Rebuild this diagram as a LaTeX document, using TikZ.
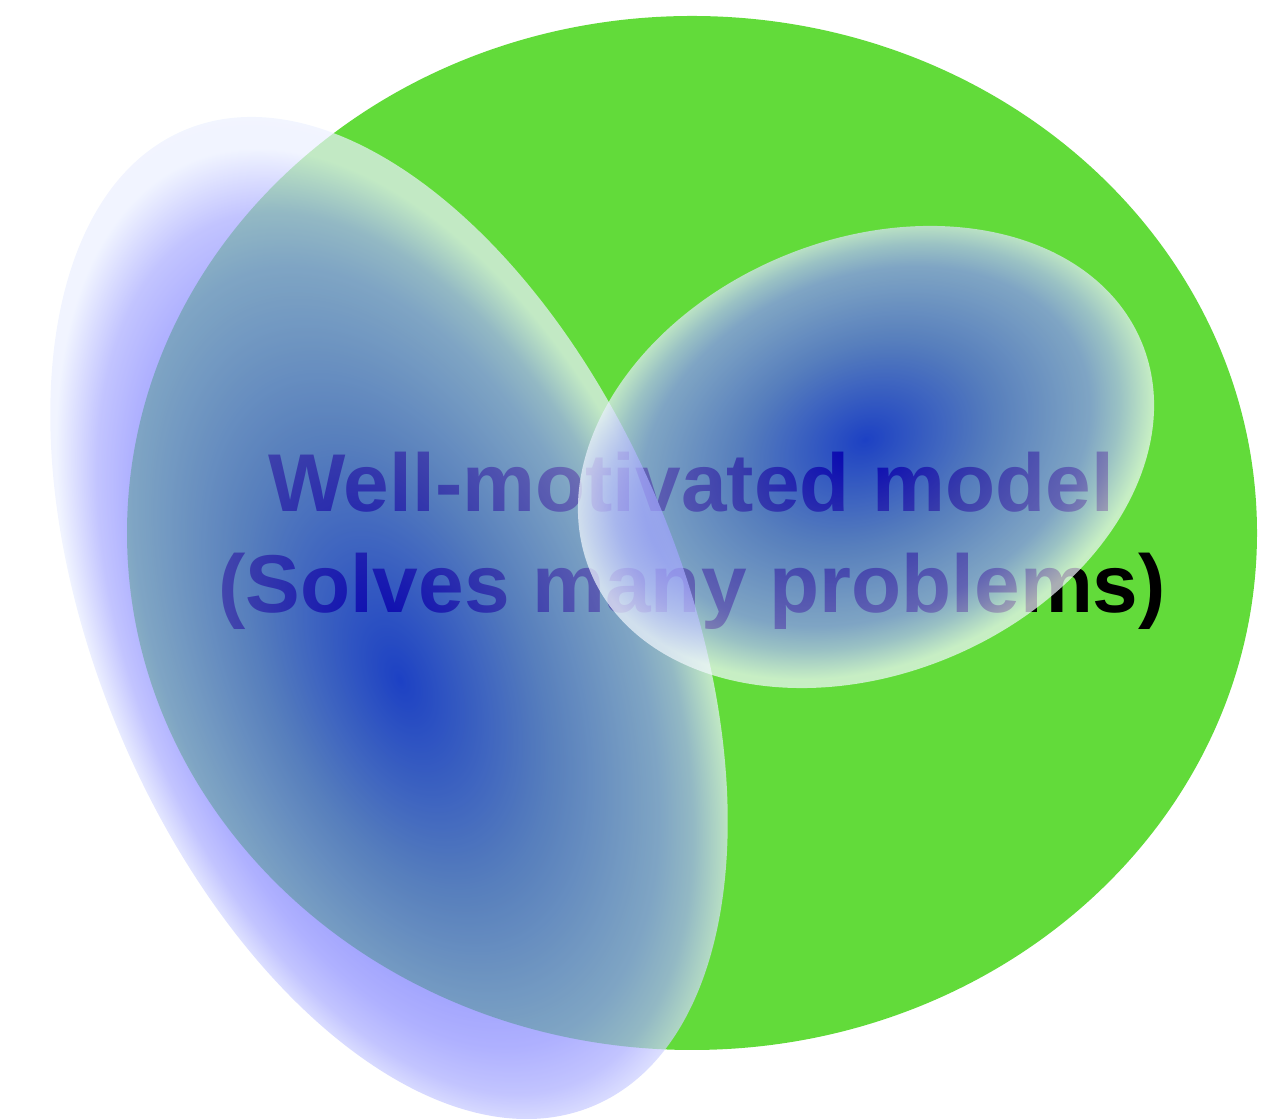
\documentclass[tikz,border=0pt]{standalone}
\usepackage{fontspec}
\setmainfont{Liberation Sans}
\definecolor{ovalgreen}{RGB}{98,219,58}
\pgfdeclareradialshading{blobbig}{\pgfpoint{-1.2bp}{-2.9bp}}{rgb(0bp)=(0,0,1); rgb(11bp)=(0.32,0.34,0.96); rgb(19.5bp)=(0.55,0.56,1); rgb(22bp)=(0.66,0.67,1); rgb(25bp)=(0.92,0.94,1); rgb(50bp)=(1,1,1)}
\pgfdeclareradialshading{blobsmall}{\pgfpoint{0.5bp}{1.9bp}}{rgb(0bp)=(0,0,1); rgb(11bp)=(0.32,0.34,0.96); rgb(19.5bp)=(0.55,0.56,1); rgb(22bp)=(0.7,0.72,1); rgb(25bp)=(0.95,0.97,1); rgb(50bp)=(1,1,1)}
\tikzset{
  blobstyle/.style={fill opacity=0.7},
  labeltext/.style={anchor=base, inner sep=0pt, text=black, font=\fontsize{61.5}{75}\selectfont\bfseries}
}
\begin{document}
\begin{tikzpicture}[x=0.75pt,y=0.75pt]
\useasboundingbox (0,0) rectangle (1281,1119);
% green oval
\fill[ovalgreen] (692,586) ellipse (565 and 517);
% text
\node[labeltext] (line1) at (691,607) {Well-motivated model};
\node[labeltext] (line2) at (692,506) {(Solves many problems)};
% big blob
\begin{scope}[transform canvas={shift={(389,501)},rotate=22.7}]
  \shade[shading=blobbig, blobstyle] (0,0) ellipse (293 and 529);
\end{scope}
% small blob
\begin{scope}[transform canvas={shift={(866,662)},rotate=22.6}]
  \shade[shading=blobsmall, blobstyle] (0,0) ellipse (298.6 and 217.2);
\end{scope}
\end{tikzpicture}
\end{document}
